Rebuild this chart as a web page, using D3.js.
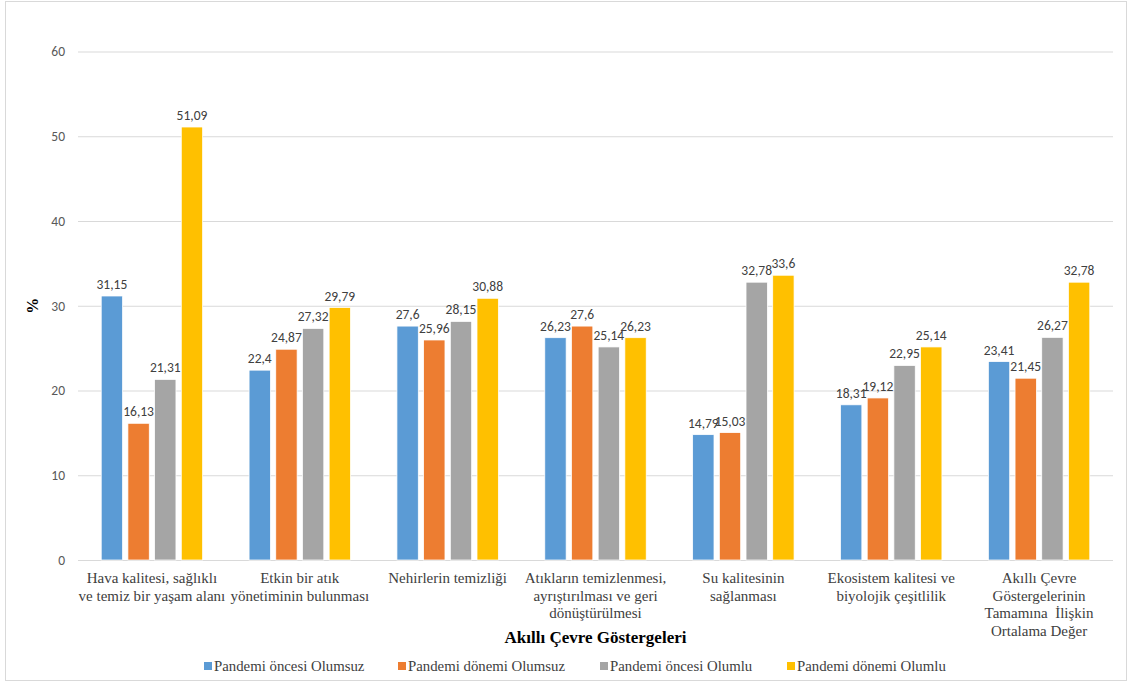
<!DOCTYPE html>
<html>
<head>
<meta charset="utf-8">
<script src="https://cdn.jsdelivr.net/npm/d3@7"></script>
<style>
  html, body { margin: 0; padding: 0; background: #fff; }
  svg { display: block; }
</style>
</head>
<body>
<svg id="chart" width="1131" height="684"></svg>
<script>
// Categories (line breaks marked with \n)
const categories = [
  "Hava kalitesi, sağlıklı\nve temiz bir yaşam alanı",
  "Etkin bir atık\nyönetiminin bulunması",
  "Nehirlerin temizliği",
  "Atıkların temizlenmesi,\nayrıştırılması ve geri\ndönüştürülmesi",
  "Su kalitesinin\nsağlanması",
  "Ekosistem kalitesi ve\nbiyolojik çeşitlilik",
  "Akıllı Çevre\nGöstergelerinin\nTamamına  İlişkin\nOrtalama Değer"
];

const seriesNames = [
  "Pandemi öncesi Olumsuz",
  "Pandemi dönemi Olumsuz",
  "Pandemi öncesi Olumlu",
  "Pandemi dönemi Olumlu"
];

const oncesiOlumsuz = [31.15, 22.4, 27.6, 26.23, 14.79, 18.31, 23.41];
const donemiOlumsuz = [16.13, 24.87, 25.96, 27.6, 15.03, 19.12, 21.45];
const oncesiOlumlu  = [21.31, 27.32, 28.15, 25.14, 32.78, 22.95, 26.27];
const donemiOlumlu  = [51.09, 29.79, 30.88, 26.23, 33.6, 25.14, 32.78];

const yTicks = [0, 10, 20, 30, 40, 50, 60];
const colors = ["#5B9BD5", "#ED7D31", "#A5A5A5", "#FFC000"];

const seriesValues = [oncesiOlumsuz, donemiOlumsuz, oncesiOlumlu, donemiOlumlu];

const svg = d3.select("#chart");

// Outer chart frame
svg.append("rect")
  .attr("x", 5.5).attr("y", 1.5)
  .attr("width", 1121).attr("height", 679)
  .attr("fill", "#fff").attr("stroke", "#D9D9D9").attr("stroke-width", 1);

const plot = { left: 78, right: 1113, top: 51.5, bottom: 560 };

const y = d3.scaleLinear().domain([0, 60]).range([plot.bottom, plot.top]);
const x0 = d3.scaleBand().domain(categories).range([plot.left, plot.right]).padding(0);
const x1 = d3.scaleBand().domain(seriesNames)
  .range([0, x0.bandwidth()]).paddingInner(0.2).paddingOuter(0.87);

// Gridlines + y tick labels
const yAxis = d3.axisLeft(y).tickValues(yTicks)
  .tickSize(-(plot.right - plot.left)).tickPadding(13)
  .tickFormat(d => String(d));

const gy = svg.append("g")
  .attr("transform", `translate(${plot.left},0)`)
  .call(yAxis);
gy.select(".domain").remove();
gy.selectAll(".tick line").attr("stroke", "#D9D9D9").attr("stroke-width", 1);
gy.selectAll(".tick text")
  .attr("fill", "#595959")
  .attr("font-family", "Carlito, Lato, 'Liberation Sans', sans-serif")
  .attr("font-size", 13.5);

// Y title
svg.append("text")
  .attr("transform", `translate(38,${(plot.top + plot.bottom) / 2}) rotate(-90)`)
  .attr("text-anchor", "middle")
  .attr("font-family", "'Liberation Serif', 'Times New Roman', serif")
  .attr("font-weight", "bold")
  .attr("font-size", 16)
  .attr("fill", "#000")
  .text("%");

// Bars
const fmt = v => String(v).replace(".", ",");
const groups = svg.append("g").selectAll("g")
  .data(categories)
  .join("g")
  .attr("transform", d => `translate(${x0(d)},0)`);

groups.each(function(cat, ci) {
  const g = d3.select(this);
  const rows = seriesNames.map((s, si) => ({ s, si, v: seriesValues[si][ci] }));
  g.selectAll("rect")
    .data(rows)
    .join("rect")
    .attr("x", d => x1(d.s))
    .attr("y", d => y(d.v))
    .attr("width", x1.bandwidth())
    .attr("height", d => y(0) - y(d.v))
    .attr("fill", d => colors[d.si])
    .attr("stroke", "#fff")
    .attr("stroke-width", 0.75);
  g.selectAll("text.val")
    .data(rows)
    .join("text")
    .attr("class", "val")
    .attr("x", d => x1(d.s) + x1.bandwidth() / 2)
    .attr("y", d => y(d.v) - 7)
    .attr("text-anchor", "middle")
    .attr("font-family", "Carlito, Lato, 'Liberation Sans', sans-serif")
    .attr("font-size", 13.5)
    .attr("fill", "#404040")
    .text(d => fmt(d.v));
});

// Category labels
const catG = svg.append("g");
categories.forEach(cat => {
  const lines = cat.split("\n");
  const t = catG.append("text")
    .attr("text-anchor", "middle")
    .attr("font-family", "'Liberation Serif', 'Times New Roman', serif")
    .attr("font-size", 15)
    .attr("fill", "#404040");
  lines.forEach((ln, i) => {
    t.append("tspan")
      .attr("x", x0(cat) + x0.bandwidth() / 2)
      .attr("y", 583 + i * 17.5)
      .style("white-space", "pre")
      .text(ln);
  });
});

// X title
svg.append("text")
  .attr("x", (plot.left + plot.right) / 2)
  .attr("y", 643)
  .attr("text-anchor", "middle")
  .attr("font-family", "'Liberation Serif', 'Times New Roman', serif")
  .attr("font-weight", "bold")
  .attr("font-size", 17)
  .attr("fill", "#000")
  .text("Akıllı Çevre Göstergeleri");

// Legend
const legendX = [204, 398, 600, 787];
const lg = svg.append("g");
seriesNames.forEach((s, i) => {
  lg.append("rect")
    .attr("x", legendX[i]).attr("y", 662)
    .attr("width", 8).attr("height", 8)
    .attr("fill", colors[i]);
  lg.append("text")
    .attr("x", legendX[i] + 10).attr("y", 671)
    .attr("font-family", "'Liberation Serif', 'Times New Roman', serif")
    .attr("font-size", 14.8)
    .attr("fill", "#404040")
    .text(s);
});
</script>
</body>
</html>
